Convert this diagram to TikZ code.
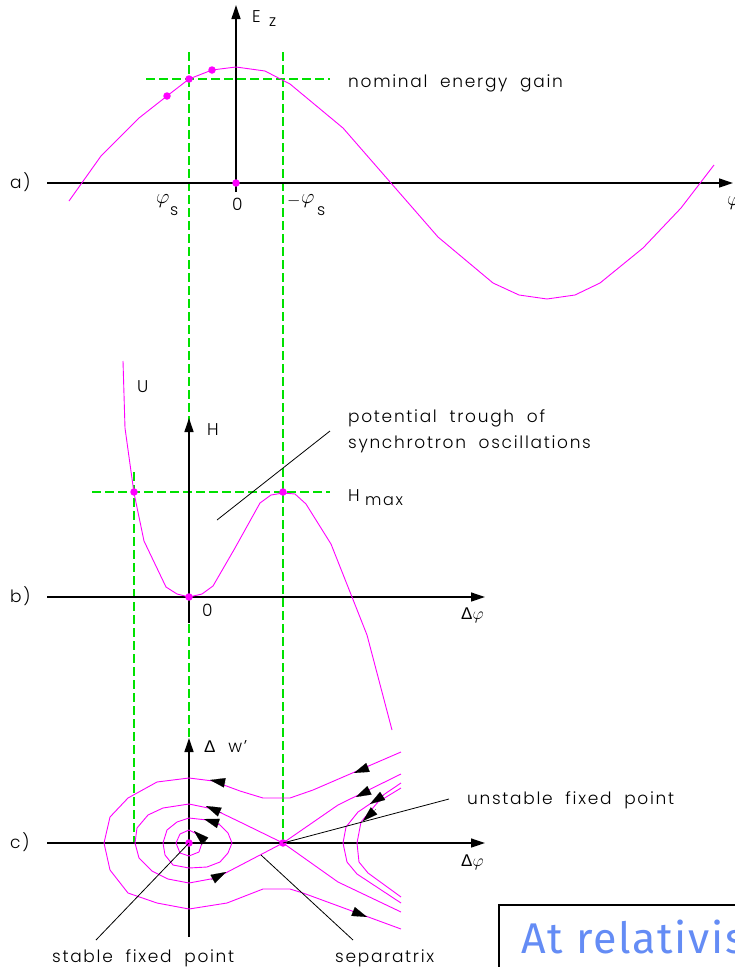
\documentclass[tikz,border=0pt]{standalone}
\usepackage{fontspec}
\setmainfont{Poppins Light}[LetterSpace=10,WordSpace=2]
\newfontfamily\boxfont{Fira Sans}[LetterSpace=4]
\newfontfamily\deltafont{Liberation Sans}
\usetikzlibrary{arrows.meta}
\definecolor{mag}{RGB}{255,0,255}
\definecolor{grn}{RGB}{0,225,0}
\definecolor{boxblue}{RGB}{100,140,245}
\newcommand{\dlt}{{\deltafont Δ}}
\begin{document}
\begin{tikzpicture}[x=1pt,y=-1pt,
  axis/.style={line width=1.3pt,-{Triangle[length=14pt,width=9pt]}},
  curve/.style={mag,line width=0.9pt,line join=round},
  guide/.style={grn,line width=1.1pt,dash pattern=on 9pt off 4pt},
  leader/.style={black,line width=0.8pt},
  dot/.style={circle,fill=mag,inner sep=0pt,minimum size=7.5pt},
  lbl/.style={anchor=base west,inner sep=0pt,font=\fontsize{17}{20}\selectfont},
  phl/.style={anchor=base west,inner sep=0pt,font=\fontsize{21}{24}\selectfont},
  sub/.style={anchor=base west,inner sep=0pt,font=\fontsize{16}{18}\selectfont},
  flow/.style={black,line width=0.1pt,-{Triangle[length=15pt,width=9.5pt]}},
]
\useasboundingbox (0,0) rectangle (735,967);
\clip (0,0) rectangle (735,967);

% green guide lines
\draw[guide] (189,52) -- (189,742);
\draw[guide] (283,52) -- (283,843);
\draw[guide] (146,79) -- (330,79);
\draw[guide] (92,492) -- (330,492);
\draw[guide] (134,472) -- (134,843);

% axes
\draw[axis] (47,183) -- (733,183);
\draw[axis] (236,192) -- (236,5);
\draw[axis] (47,597) -- (485,597);
\draw[axis] (189,623) -- (189,418);
\draw[axis] (47,843) -- (485,843);
\draw[axis] (189,937) -- (189,738);

% a) energy gain curve
\draw[curve] (69,201) -- (101,156) -- (139,118) -- (167,96) -- (189,79) -- (212,70) -- (236,67) -- (265,71) -- (290,84) -- (343,128) -- (438,237) -- (493,283) -- (519,295) -- (547,299) -- (575,295) -- (600,283) -- (643,248) -- (681,208) -- (714,165);

% b) potential
\draw[curve] (123,361) -- (125,428) -- (134,493) -- (144,541) -- (166,587) -- (177,594) -- (189,597) -- (202,594) -- (213,586) -- (235,548) -- (260,503) -- (271,495) -- (283,493) -- (295,494) -- (306,504) -- (331,544) -- (352,597) -- (367,635) -- (392,730);

% c) phase space
\draw[curve] (189,830) -- (199,835) -- (202,843) -- (199,852) -- (189,856) -- (180,853) -- (176,843) -- (180,834) -- cycle;
\draw[curve] (163,843) -- (167,830) -- (177,822) -- (189,818) -- (207,820) -- (220,825) -- (228,833) -- (232,843) -- (228,853) -- (220,862) -- (207,867) -- (189,868) -- (173,865) -- (165,855) -- cycle;
\draw[curve] (283,843) -- (240,822) -- (213,809) -- (189,804) -- (163,808) -- (148,815) -- (137,828) -- (135,843) -- (139,858) -- (152,871) -- (168,879) -- (189,883) -- (216,878) -- cycle;
\draw[curve] (283,843) -- (338,805) -- (401,774);
\draw[curve] (283,843) -- (338,882) -- (401,912);
\draw[curve] (401,752) -- (313,790) -- (290,798) -- (263,798) -- (240,791) -- (213,781) -- (189,778) -- (157,782) -- (128,798) -- (110,817) -- (104,843) -- (110,870) -- (128,893) -- (157,903) -- (189,909) -- (227,903) -- (263,889) -- (290,889) -- (303,893) -- (401,929);
\draw[curve] (401,783) -- (358,812) -- (346,827) -- (343,843) -- (347,862) -- (357,874) -- (401,903);
\draw[curve] (401,788) -- (378,802) -- (361,822) -- (357,843) -- (359,862) -- (368,873) -- (401,897);

% flow arrows
\draw[flow] (226,783) -- (210,780);
\draw[flow] (222,813) -- (206,806);
\draw[flow] (220,824) -- (204,819);
\draw[flow] (206,842) -- (194,831);
\draw[flow] (211,880) -- (226,872);
\draw[flow] (369,767) -- (354,773);
\draw[flow] (370,790) -- (356,797);
\draw[flow] (384,795) -- (370,804);
\draw[flow] (376,809) -- (363,821);
\draw[flow] (352,911) -- (367,917);

% dots
\node[dot] (a0) at (236,183) {};
\node[dot] (a1) at (167,96) {};
\node[dot] (a2) at (189,79) {};
\node[dot] (a3) at (212,70) {};
\node[dot] (b1) at (134,492) {};
\node[dot] (b2) at (283,492) {};
\node[dot] (b0) at (189,597) {};
\node[dot] (cs) at (189,843) {};
\node[dot] (cu) at (283,843) {};

% labels a)
\node[lbl] (la) at (10,188) {a)};
\node[lbl] (ez) at (252,22) {E};
\node[sub] (ezs) at (269,26) {z};
\node[lbl] (nom) at (348,87) {nominal energy gain};
\node[phl] (phs) at (156,203) {$\varphi$};
\node[sub] (phss) at (170,215) {s};
\node[lbl] (a0l) at (232,210) {0};
\node[lbl] (mn) at (287,205) {$-$};
\node[phl] (mphs) at (301,203) {$\varphi$};
\node[sub] (mphss) at (317,215) {s};
\node[phl] (phiax) at (727,205) {$\varphi$};

% labels b)
\node[lbl] (lb) at (10,602) {b)};
\node[lbl] (U) at (137,392) {U};
\node[lbl] (Hax) at (207,435) {H};
\node[lbl] (b0l) at (202,616) {0};
\node[lbl] (bdp) at (461,619) {\dlt$\varphi$};
\node[lbl] (pot1) at (348,422) {potential trough of};
\node[lbl] (pot2) at (348,448) {synchrotron oscillations};
\node[lbl] (Hm) at (348,501) {H};
\node[sub] (Hms) at (365,505) {max};
\coordinate (pt1) at (217,520);
\coordinate (pt2) at (330,431);
\draw[leader] (pt1) -- (pt2);

% labels c)
\node[lbl] (lc) at (10,848) {c)};
\node[lbl] (dw) at (204,752) {\dlt\ w'};
\node[lbl] (cdp) at (461,866) {\dlt$\varphi$};
\node[lbl] (unst) at (467,804) {unstable fixed point};
\node[lbl] (stab) at (52,962) {stable fixed point};
\node[lbl] (sepx) at (335,962) {separatrix};
\coordinate (ue) at (449,799);
\coordinate (se) at (96,940);
\coordinate (xa) at (261,855);
\coordinate (xe) at (353,940);
\draw[leader] (cu.center) -- (ue);
\draw[leader] (cs.center) -- (se);
\draw[leader] (xa) -- (xe);

% box
\draw[line width=2.5pt] (499,1000) -- (499,905) -- (760,905);
\node[anchor=base west,inner sep=0pt,text=boxblue,font=\boxfont\fontsize{43}{50}\selectfont] (box) at (521,953) {At relativistic};
\end{tikzpicture}
\end{document}
